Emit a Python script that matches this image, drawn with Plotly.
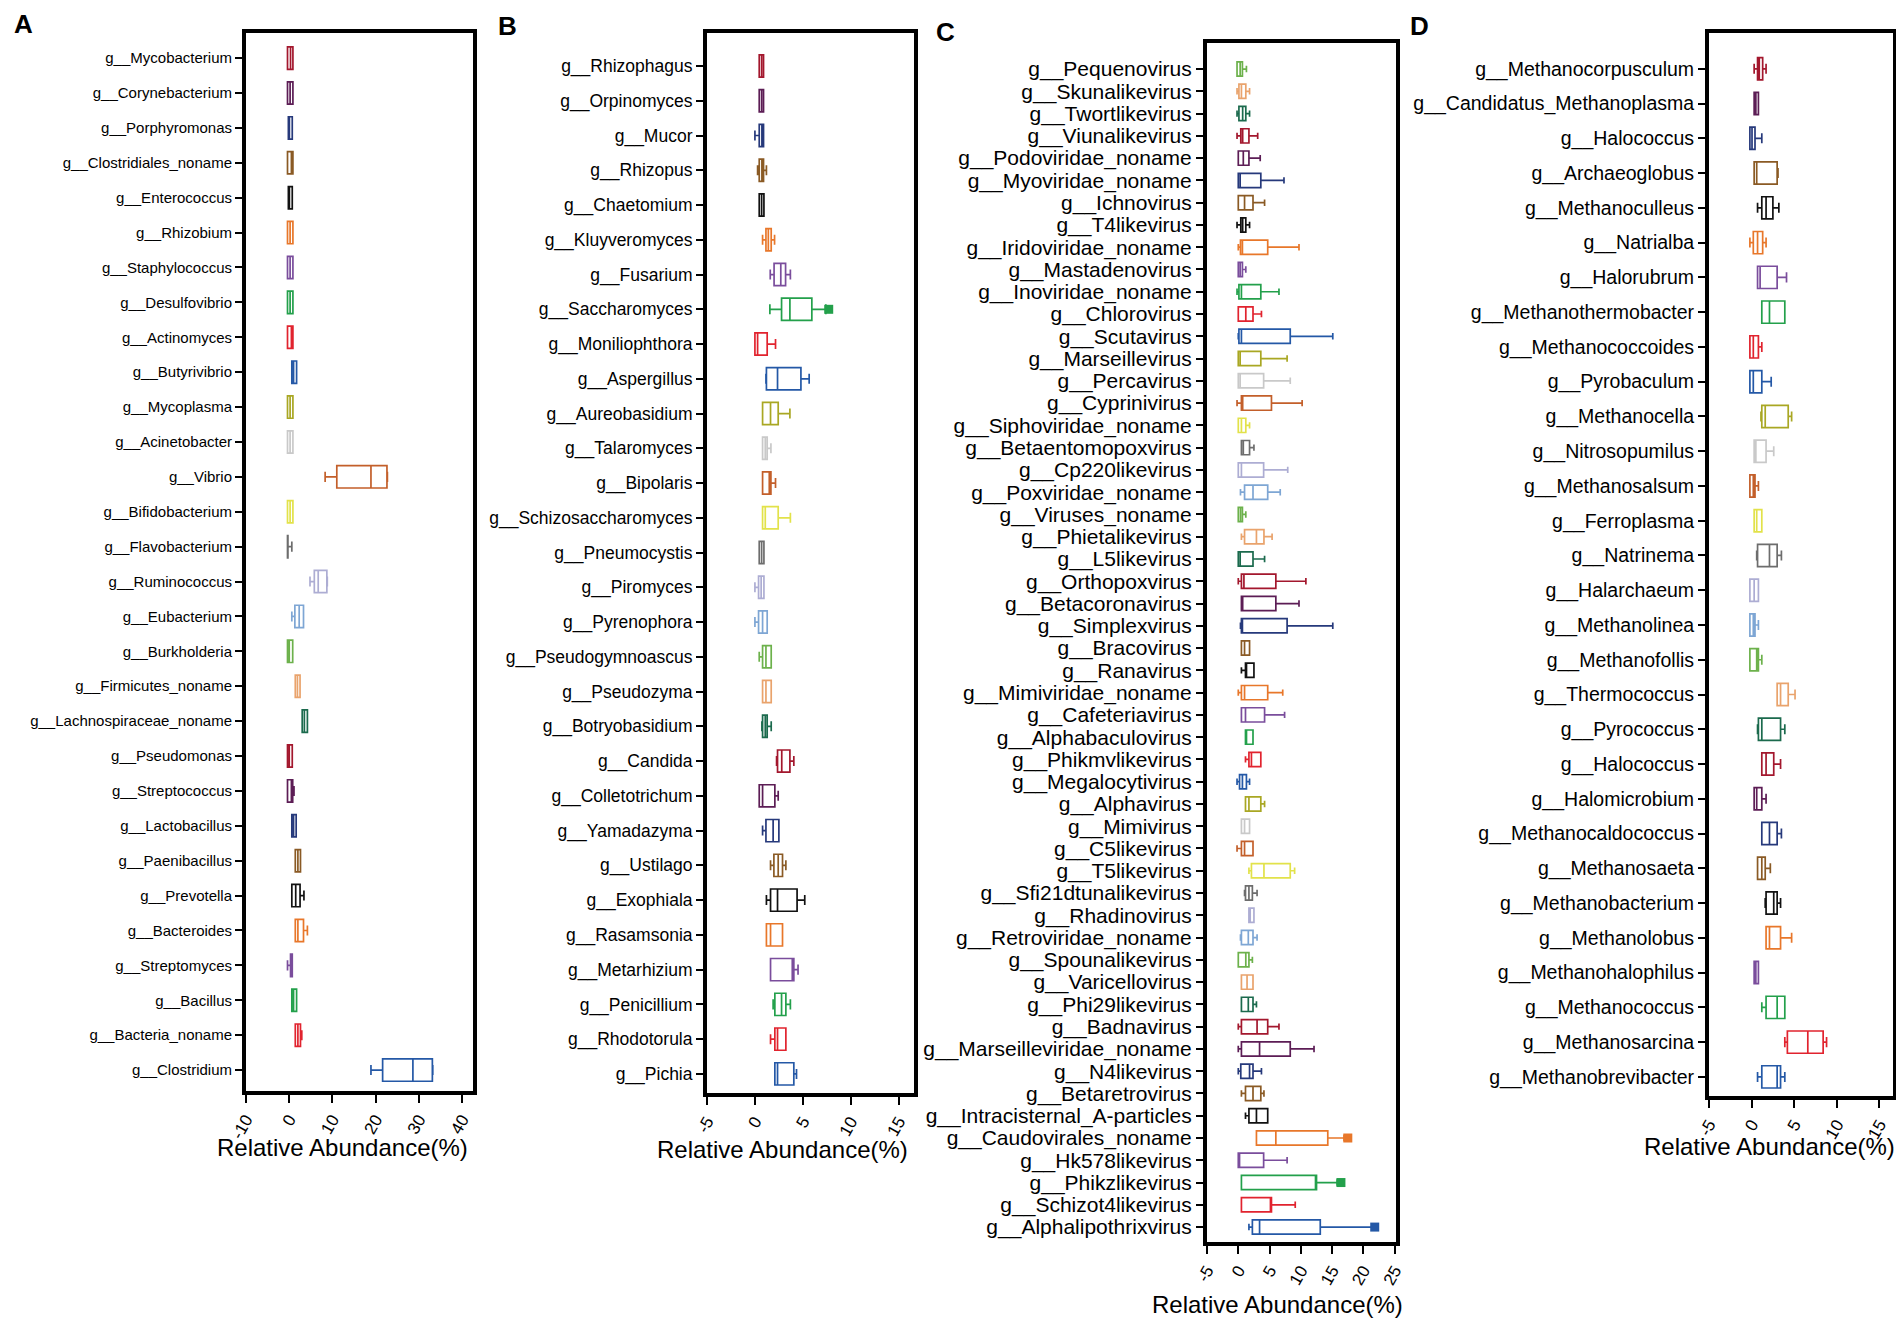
import plotly.graph_objects as go

# colour cycle of the boxes; the bottom box of every panel gets index 9
palette = ["#a3172d", "#5c1d55", "#26397b", "#8a5a24", "#111111", "#e8772a",
           "#7a4d9c", "#23a04b", "#e1232e", "#2458a6", "#a9a723", "#c9c9c9",
           "#c35f2a", "#e2e24a", "#6d6d6d", "#adadd3", "#7ea6d4", "#6cb14b",
           "#e9a36c", "#1b6a4d"]

# ---------------- panel A (bacteria) ----------------
A_names = ["g__Mycobacterium", "g__Corynebacterium", "g__Porphyromonas", "g__Clostridiales_noname",
           "g__Enterococcus", "g__Rhizobium", "g__Staphylococcus", "g__Desulfovibrio", "g__Actinomyces",
           "g__Butyrivibrio", "g__Mycoplasma", "g__Acinetobacter", "g__Vibrio", "g__Bifidobacterium",
           "g__Flavobacterium", "g__Ruminococcus", "g__Eubacterium", "g__Burkholderia",
           "g__Firmicutes_noname", "g__Lachnospiraceae_noname", "g__Pseudomonas", "g__Streptococcus",
           "g__Lactobacillus", "g__Paenibacillus", "g__Prevotella", "g__Bacteroides", "g__Streptomyces",
           "g__Bacillus", "g__Bacteria_noname", "g__Clostridium"]
A_lo = [-0.4, -0.4, -0.2, -0.4, -0.2, -0.4, -0.4, -0.4, -0.4, 0.6, -0.4, -0.4, 8.3, -0.4, -0.4,
        4.8, 0.6, -0.4, 1.4, 3.0, -0.4, -0.4, 0.6, 1.4, 0.6, 1.4, -0.4, 0.6, 1.4, 18.9]
A_q1 = [-0.4, -0.4, -0.2, -0.4, -0.2, -0.4, -0.4, -0.4, -0.4, 0.6, -0.4, -0.4, 11.0, -0.4, -0.4,
        5.8, 1.3, -0.4, 1.4, 3.0, -0.4, -0.4, 0.6, 1.4, 0.6, 1.4, 0.3, 0.6, 1.4, 21.6]
A_med = [0.3, 0.2, 0.0, 0.5, 0.0, 0.2, 0.2, 0.2, 0.5, 1.0, 0.2, 0.2, 18.9, 0.2, -0.35,
         6.7, 2.3, 0.0, 1.9, 3.5, 0.0, 0.5, 1.0, 2.0, 1.5, 2.0, 0.5, 1.0, 2.0, 28.6]
A_q3 = [0.85, 0.85, 0.7, 0.85, 0.7, 0.85, 0.85, 0.85, 0.85, 1.7, 0.85, 0.85, 22.6, 0.85, -0.3,
        8.7, 3.3, 0.8, 2.5, 4.2, 0.7, 0.8, 1.6, 2.6, 2.5, 3.3, 0.7, 1.7, 2.6, 33.1]
A_hi = [0.85, 0.85, 0.7, 0.85, 0.7, 0.85, 0.85, 0.85, 0.85, 1.7, 0.85, 0.85, 22.7, 0.85, 0.6,
        8.8, 3.3, 0.8, 2.5, 4.2, 0.7, 1.1, 1.6, 2.6, 3.4, 4.2, 0.7, 1.7, 2.9, 33.2]
A_out_idx, A_out_val = [], []
A_ticks = [-10, 0, 10, 20, 30, 40]

# ---------------- panel B (fungi) ----------------
B_names = ["g__Rhizophagus", "g__Orpinomyces", "g__Mucor", "g__Rhizopus", "g__Chaetomium",
           "g__Kluyveromyces", "g__Fusarium", "g__Saccharomyces", "g__Moniliophthora", "g__Aspergillus",
           "g__Aureobasidium", "g__Talaromyces", "g__Bipolaris", "g__Schizosaccharomyces",
           "g__Pneumocystis", "g__Piromyces", "g__Pyrenophora", "g__Pseudogymnoascus", "g__Pseudozyma",
           "g__Botryobasidium", "g__Candida", "g__Colletotrichum", "g__Yamadazyma", "g__Ustilago",
           "g__Exophiala", "g__Rasamsonia", "g__Metarhizium", "g__Penicillium", "g__Rhodotorula",
           "g__Pichia"]
B_lo = [0.45, 0.45, 0.0, 0.28, 0.45, 0.8, 1.6, 1.56, 0.0, 1.15, 0.8, 0.8, 0.8, 0.8, 0.45,
        0.0, 0.0, 0.45, 0.8, 0.73, 2.26, 0.45, 0.8, 1.63, 1.2, 1.2, 1.63, 1.9, 1.63, 2.08]
B_q1 = [0.45, 0.45, 0.45, 0.45, 0.45, 1.15, 2.0, 2.78, 0.0, 1.2, 0.8, 0.8, 0.8, 0.8, 0.45,
        0.38, 0.38, 0.8, 0.8, 0.8, 2.36, 0.45, 1.15, 1.98, 1.63, 1.2, 1.63, 2.08, 2.08, 2.08]
B_med = [0.7, 0.7, 0.73, 0.73, 0.7, 1.4, 2.7, 3.65, 0.28, 2.36, 1.63, 1.08, 1.5, 1.08, 0.7,
         0.65, 0.8, 1.15, 1.15, 1.08, 2.8, 0.8, 1.9, 2.43, 2.36, 1.63, 3.9, 2.78, 2.36, 2.36]
B_q3 = [0.9, 0.9, 0.9, 0.9, 0.94, 1.7, 3.2, 5.94, 1.28, 4.8, 2.43, 1.28, 1.67, 2.43, 0.94,
        0.94, 1.28, 1.7, 1.7, 1.28, 3.65, 2.08, 2.5, 2.88, 4.4, 2.88, 4.06, 3.23, 3.23, 4.06]
B_hi = [0.9, 0.9, 0.9, 1.2, 0.94, 2.05, 3.7, 7.4, 2.15, 5.66, 3.65, 1.67, 2.15, 3.7, 0.94,
        0.94, 1.28, 1.7, 1.7, 1.7, 4.06, 2.43, 2.5, 3.23, 5.2, 2.88, 4.5, 3.7, 3.23, 4.34]
B_out_idx, B_out_val = [7], [7.7]
B_ticks = [-5, 0, 5, 10, 15]

# ---------------- panel C (viruses) ----------------
C_names = ["g__Pequenovirus", "g__Skunalikevirus", "g__Twortlikevirus", "g__Viunalikevirus",
           "g__Podoviridae_noname", "g__Myoviridae_noname", "g__Ichnovirus", "g__T4likevirus",
           "g__Iridoviridae_noname", "g__Mastadenovirus", "g__Inoviridae_noname", "g__Chlorovirus",
           "g__Scutavirus", "g__Marseillevirus", "g__Percavirus", "g__Cyprinivirus",
           "g__Siphoviridae_noname", "g__Betaentomopoxvirus", "g__Cp220likevirus", "g__Poxviridae_noname",
           "g__Viruses_noname", "g__Phietalikevirus", "g__L5likevirus", "g__Orthopoxvirus",
           "g__Betacoronavirus", "g__Simplexvirus", "g__Bracovirus", "g__Ranavirus",
           "g__Mimiviridae_noname", "g__Cafeteriavirus", "g__Alphabaculovirus", "g__Phikmvlikevirus",
           "g__Megalocytivirus", "g__Alphavirus", "g__Mimivirus", "g__C5likevirus", "g__T5likevirus",
           "g__Sfi21dtunalikevirus", "g__Rhadinovirus", "g__Retroviridae_noname", "g__Spounalikevirus",
           "g__Varicellovirus", "g__Phi29likevirus", "g__Badnavirus", "g__Marseilleviridae_noname",
           "g__N4likevirus", "g__Betaretrovirus", "g__Intracisternal_A-particles",
           "g__Caudovirales_noname", "g__Hk578likevirus", "g__Phikzlikevirus", "g__Schizot4likevirus",
           "g__Alphalipothrixvirus"]
C_lo = [-0.2, -0.2, -0.2, -0.2, 0, 0, 0, -0.2, 0, 0, -0.2, 0, 0, 0, 0, -0.2, 0, 0.5, 0, 0.35,
        0, 0.5, 0, 0, 0.5, 0.35, 0.5, 0.5, 0, 0.5, 1.15, 1.15, -0.2, 1.15, 0.5, -0.2, 1.7,
        1.0, 1.7, 0.35, 0, 0.5, 0.5, 0, 0, 0, 0.5, 1.15, 2.9, 0, 0.5, 0.5, 1.7]
C_q1 = [-0.2, 0.1, 0.1, 0.4, 0, 0, 0, 0.4, 0.35, 0, 0.1, 0, 0.1, 0, 0, 0.5, 0, 0.5, 0, 1.0,
        0, 1.0, 0, 0.5, 0.5, 0.5, 0.5, 1.15, 0.5, 0.5, 1.15, 1.7, 0.2, 1.15, 0.5, 0.5, 2.1,
        1.15, 1.7, 0.5, 0, 0.5, 0.5, 0.5, 0.5, 0.4, 1.15, 1.7, 2.9, 0, 0.5, 0.5, 2.25]
C_med = [0.3, 0.5, 0.7, 0.7, 0.8, 0.3, 1.0, 0.7, 0.66, 0.3, 0.5, 1.2, 0.5, 0.3, 0.3, 0.7, 0.5,
         0.8, 0.5, 2.35, 0.35, 2.9, 0.3, 0.9, 0.7, 0.55, 1.0, 1.3, 1.0, 1.15, 1.3, 2.1, 0.66,
         1.7, 1.0, 1.0, 4.1, 1.7, 1.9, 1.6, 1.2, 1.4, 1.6, 3.0, 3.4, 1.8, 2.35, 2.9, 6.0, 0.2,
         12.4, 5.2, 3.4]
C_q3 = [0.66, 1.2, 1.2, 1.7, 1.7, 3.6, 2.35, 1.2, 4.7, 0.66, 3.6, 2.35, 8.3, 3.6, 4.05, 5.3,
        1.2, 1.8, 4.05, 4.7, 0.66, 4.1, 2.35, 6.0, 6.0, 7.8, 1.8, 2.5, 4.7, 4.2, 2.35, 3.6, 1.3,
        3.6, 1.8, 2.35, 8.3, 2.25, 2.5, 2.35, 1.7, 2.35, 2.35, 4.7, 8.3, 2.35, 3.6, 4.7, 14.3,
        4.05, 12.5, 5.3, 13.1]
C_hi = [1.3, 1.8, 1.8, 3.1, 3.5, 7.3, 4.2, 1.8, 9.7, 1.2, 6.5, 3.7, 15.1, 7.8, 8.3, 10.2, 1.8,
        2.5, 7.9, 6.7, 1.2, 5.4, 4.2, 10.8, 9.7, 15.1, 1.8, 2.5, 7.1, 7.4, 2.35, 3.6, 1.8, 4.2,
        1.8, 2.35, 9.0, 3.0, 2.5, 3.0, 2.25, 2.35, 2.9, 6.5, 12.1, 3.7, 4.1, 4.7, 16.9, 7.8,
        15.8, 9.1, 21.4]
C_out_idx, C_out_val = [48, 50, 52], [17.5, 16.4, 21.8]
C_ticks = [-5, 0, 5, 10, 15, 20, 25]

# ---------------- panel D (archaea) ----------------
D_names = ["g__Methanocorpusculum", "g__Candidatus_Methanoplasma", "g__Halococcus", "g__Archaeoglobus",
           "g__Methanoculleus", "g__Natrialba", "g__Halorubrum", "g__Methanothermobacter",
           "g__Methanococcoides", "g__Pyrobaculum", "g__Methanocella", "g__Nitrosopumilus",
           "g__Methanosalsum", "g__Ferroplasma", "g__Natrinema", "g__Halarchaeum", "g__Methanolinea",
           "g__Methanofollis", "g__Thermococcus", "g__Pyrococcus", "g__Halococcus", "g__Halomicrobium",
           "g__Methanocaldococcus", "g__Methanosaeta", "g__Methanobacterium", "g__Methanolobus",
           "g__Methanohalophilus", "g__Methanococcus", "g__Methanosarcina", "g__Methanobrevibacter"]
D_lo = [0.3, 0.3, -0.2, 0.3, 0.7, -0.2, 0.7, 1.2, -0.2, -0.2, 1.1, 0.3, -0.2, 0.3, 0.6,
        -0.2, -0.2, -0.2, 3.0, 0.7, 1.2, 0.3, 1.2, 0.7, 1.6, 1.7, 0.3, 1.2, 3.9, 0.7]
D_q1 = [0.7, 0.3, -0.2, 0.3, 1.2, 0.2, 0.7, 1.2, -0.2, -0.2, 1.2, 0.3, -0.2, 0.3, 0.7,
        -0.2, -0.2, -0.2, 3.0, 0.8, 1.2, 0.3, 1.2, 0.7, 1.7, 1.7, 0.3, 1.7, 4.2, 1.2]
D_med = [0.9, 0.5, 0.05, 0.6, 1.7, 0.7, 1.0, 2.1, 0.2, 0.2, 1.6, 0.5, 0.2, 0.6, 2.1,
         0.3, 0.2, 0.6, 3.4, 1.2, 1.7, 0.6, 2.1, 1.2, 2.6, 2.1, 0.5, 3.0, 6.6, 3.0]
D_q3 = [1.3, 0.8, 0.4, 3.0, 2.5, 1.3, 3.0, 3.9, 0.8, 1.2, 4.3, 1.7, 0.4, 1.2, 3.0,
        0.8, 0.4, 0.8, 4.3, 3.4, 2.6, 1.2, 3.0, 1.6, 3.0, 3.4, 0.8, 3.9, 8.4, 3.4]
D_hi = [1.7, 0.8, 1.2, 3.1, 3.2, 1.7, 4.1, 3.9, 1.2, 2.3, 4.7, 2.6, 0.8, 1.2, 3.5,
        0.8, 0.8, 1.2, 5.1, 3.9, 3.4, 1.7, 3.5, 2.2, 3.4, 4.7, 0.8, 3.9, 8.8, 3.9]
D_out_idx, D_out_val = [], []
D_ticks = [-5, 0, 5, 10, 15]

ARIAL = "Liberation Sans, Arial, sans-serif"

# page positions (px) measured on the reference
panels = [
    dict(letter="A", names=A_names, lo=A_lo, q1=A_q1, med=A_med, q3=A_q3, hi=A_hi,
         oi=A_out_idx, ov=A_out_val, ticks=A_ticks,
         xd=(246, 473), yd=(33, 1091), xr=(-10, 42.5), pt=0.72, pb=0.6,
         fs=15, title=(342, 1147), lp=(23, 24)),
    dict(letter="B", names=B_names, lo=B_lo, q1=B_q1, med=B_med, q3=B_q3, hi=B_hi,
         oi=B_out_idx, ov=B_out_val, ticks=B_ticks,
         xd=(707, 914), yd=(33, 1093), xr=(-5, 16.6), pt=0.95, pb=0.55,
         fs=17.5, title=(782, 1149), lp=(507, 26)),
    dict(letter="C", names=C_names, lo=C_lo, q1=C_q1, med=C_med, q3=C_q3, hi=C_hi,
         oi=C_out_idx, ov=C_out_val, ticks=C_ticks,
         xd=(1207, 1396), yd=(43, 1242), xr=(-5, 25.2), pt=1.17, pb=0.67,
         fs=21, title=(1277, 1304), lp=(945, 32)),
    dict(letter="D", names=D_names, lo=D_lo, q1=D_q1, med=D_med, q3=D_q3, hi=D_hi,
         oi=D_out_idx, ov=D_out_val, ticks=D_ticks,
         xd=(1709, 1893), yd=(33, 1096), xr=(-5, 16.6), pt=1.03, pb=0.55,
         fs=19.5, title=(1772, 1146), lp=(1419, 26)),
]

# the page body has an 8px margin, so the figure is a bit smaller than the window
OFF = 8
W, H = 1904 - 2 * OFF, 1329 - 2 * OFF


def px(x):
    return (x - OFF) / W


def py(y):
    return 1 - (y - OFF) / H


fig = go.Figure()
annotations = []
layout_axes = {}

for k, p in enumerate(panels):
    s = "" if k == 0 else str(k + 1)
    n = len(p["names"])
    for i in range(n):
        col = palette[(9 - (n - 1 - i)) % 20]
        fig.add_trace(go.Box(
            orientation="h", y=[i],
            q1=[p["q1"][i]], median=[p["med"][i]], q3=[p["q3"][i]],
            lowerfence=[p["lo"][i]], upperfence=[p["hi"][i]],
            line=dict(color=col, width=1.7), fillcolor="rgba(255,255,255,0)",
            width=0.64, whiskerwidth=0.45, boxpoints=False,
            xaxis="x" + s, yaxis="y" + s, showlegend=False, hoverinfo="skip"))
    if p["oi"]:
        fig.add_trace(go.Scatter(
            x=p["ov"], y=p["oi"], mode="markers",
            marker=dict(symbol="square", size=9,
                        color=[palette[(9 - (n - 1 - i)) % 20] for i in p["oi"]]),
            xaxis="x" + s, yaxis="y" + s, showlegend=False, hoverinfo="skip"))

    layout_axes["xaxis" + s] = dict(
        domain=[px(p["xd"][0]), px(p["xd"][1])], anchor="y" + s, automargin=False,
        range=list(p["xr"]), tickvals=p["ticks"], ticktext=[str(t) for t in p["ticks"]],
        tickangle=-60, ticks="outside", ticklen=8, tickwidth=2, tickcolor="black",
        showline=True, mirror=True, linewidth=4, linecolor="black",
        showgrid=False, zeroline=False,
        tickfont=dict(family=ARIAL, size=17, color="black"))
    layout_axes["yaxis" + s] = dict(
        domain=[py(p["yd"][1]), py(p["yd"][0])], anchor="x" + s, automargin=False,
        range=[n - 1 + p["pb"], -p["pt"]], tickvals=list(range(n)), ticktext=p["names"],
        ticks="outside", ticklen=7, tickwidth=2, tickcolor="black",
        showline=True, mirror=True, linewidth=4, linecolor="black",
        showgrid=False, zeroline=False,
        tickfont=dict(family=ARIAL, size=p["fs"], color="black"))

    title = dict(text="Relative Abundance(%)", x=px(p["title"][0]), y=py(p["title"][1]),
                 xref="paper", yref="paper", showarrow=False, xanchor="center", yanchor="middle",
                 borderpad=0, font=dict(family=ARIAL, size=24, color="black"))
    if p["letter"] == "D":
        # keep the last title inside the page: anchor its right end on the figure edge
        title.update(x=1.0, xanchor="right")
    annotations.append(title)
    annotations.append(dict(text="<b>" + p["letter"] + "</b>", x=px(p["lp"][0]), y=py(p["lp"][1]),
                            xref="paper", yref="paper", showarrow=False, xanchor="center", yanchor="middle",
                            borderpad=0, font=dict(family=ARIAL, size=26, color="black")))

fig.update_layout(width=W, height=H, margin=dict(l=0, r=0, t=0, b=0, autoexpand=False),
                  paper_bgcolor="white", plot_bgcolor="white",
                  annotations=annotations, **layout_axes)

fig.write_html("out.html")
